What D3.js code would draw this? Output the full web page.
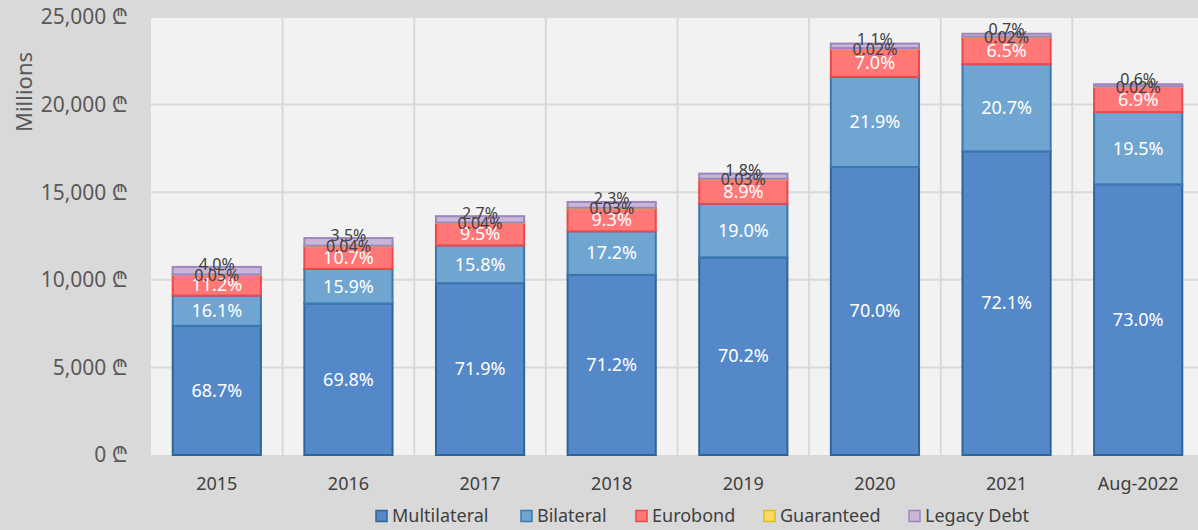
<!DOCTYPE html>
<html lang="en">
<head>
    <meta charset="UTF-8">
    <style>
        body { margin: 0; background: #d9d9d9; }
        text { font-family: "Noto Sans", sans-serif; }
    </style>
    <title>Debt by creditor</title>
</head>
<body>
<script src="https://d3js.org/d3.v7.min.js" charset="utf-8"></script>
<script>
    // totals in millions of lari, shares in percent
    var years = ['2015', '2016', '2017', '2018', '2019', '2020', '2021', 'Aug-2022'];
    var totals = [10730, 12390, 13640, 14440, 16070, 23480, 24040, 21160];
    var multilateral = [68.7, 69.8, 71.9, 71.2, 70.2, 70.0, 72.1, 73.0];
    var bilateral = [16.1, 15.9, 15.8, 17.2, 19.0, 21.9, 20.7, 19.5];
    var eurobond = [11.2, 10.7, 9.5, 9.3, 8.9, 7.0, 6.5, 6.9];
    var guaranteed = [0.05, 0.04, 0.04, 0.03, 0.03, 0.02, 0.02, 0.02];
    var legacy = [4.0, 3.5, 2.7, 2.3, 1.8, 1.1, 0.7, 0.6];
    var yTicks = [0, 5000, 10000, 15000, 20000, 25000];

    var seriesNames = ['Multilateral', 'Bilateral', 'Eurobond', 'Guaranteed', 'Legacy Debt'];
    var shares = [multilateral, bilateral, eurobond, guaranteed, legacy];
    var fills = ['#5588c9', '#71a5d1', '#ff7777', '#ffd966', '#c9b6d8'];
    var strokes = ['#2f6699', '#3a78ae', '#e8494b', '#d8c21a', '#9d86bd'];

    var width = 1198, height = 530;
    var plot = {left: 151, right: 1204, top: 17, bottom: 455};

    var svg = d3.select('body').append('svg').attr('width', width).attr('height', height);

    svg.append('rect')
        .attr('x', plot.left).attr('y', plot.top)
        .attr('width', plot.right - plot.left).attr('height', plot.bottom - plot.top)
        .attr('fill', '#f2f2f2');

    var x = d3.scaleBand().domain(years).range([plot.left, plot.right])
        .paddingInner(0.33).paddingOuter(0.165);
    var y = d3.scaleLinear().domain([0, 25000]).range([plot.bottom, plot.top]);

    // gridlines
    svg.append('g').selectAll('line.h')
        .data(yTicks.slice(1))
        .enter().append('line')
        .attr('x1', plot.left).attr('x2', plot.right)
        .attr('y1', function (d) { return y(d); }).attr('y2', function (d) { return y(d); })
        .attr('stroke', '#d9d9d9').attr('stroke-width', 2);

    var step = x.step();
    svg.append('g').selectAll('line.v')
        .data(years.slice(1))
        .enter().append('line')
        .attr('x1', function (d) { return x(d) - x.paddingInner() * step / 2; })
        .attr('x2', function (d) { return x(d) - x.paddingInner() * step / 2; })
        .attr('y1', plot.top).attr('y2', plot.bottom)
        .attr('stroke', '#d9d9d9').attr('stroke-width', 2);

    // y axis labels
    var fmt = d3.format(',');
    svg.append('g').selectAll('text')
        .data(yTicks)
        .enter().append('text')
        .attr('x', 128)
        .attr('y', function (d) { return y(d); })
        .attr('dy', '0.35em')
        .attr('text-anchor', 'end')
        .attr('fill', '#595959')
        .style('font-size', '21px')
        .text(function (d) { return fmt(d) + ' \u20BE'; });

    svg.append('text')
        .attr('transform', 'translate(32,92) rotate(-90)')
        .attr('text-anchor', 'middle')
        .attr('fill', '#595959')
        .style('font-size', '22px')
        .text('Millions');

    // x labels
    svg.append('g').selectAll('text')
        .data(years)
        .enter().append('text')
        .attr('x', function (d) { return x(d) + x.bandwidth() / 2; })
        .attr('y', 484)
        .attr('dy', '0.35em')
        .attr('text-anchor', 'middle')
        .attr('fill', '#404040')
        .style('font-size', '18px')
        .text(function (d) { return d; });

    // build stacked segments
    var segments = [];
    years.forEach(function (yr, i) {
        var base = 0;
        shares.forEach(function (s, k) {
            var v = totals[i] * s[i] / 100;
            segments.push({year: yr, k: k, y0: base, y1: base + v, pct: s[i]});
            base += v;
        });
    });

    svg.append('g').selectAll('rect')
        .data(segments)
        .enter().append('rect')
        .attr('x', function (d) { return x(d.year); })
        .attr('width', x.bandwidth())
        .attr('y', function (d) { return y(d.y1); })
        .attr('height', function (d) { return Math.max(0.5, y(d.y0) - y(d.y1)); })
        .attr('fill', function (d) { return fills[d.k]; })
        .attr('stroke', function (d) { return strokes[d.k]; })
        .attr('stroke-width', 2);

    svg.append('g').selectAll('text')
        .data(segments)
        .enter().append('text')
        .attr('x', function (d) { return x(d.year) + x.bandwidth() / 2; })
        .attr('y', function (d) {
            var c = (y(d.y0) + y(d.y1)) / 2;
            if (d.k === 4) c -= 6;
            if (d.k === 3) c += 1;
            return c;
        })
        .attr('dy', '0.35em')
        .attr('text-anchor', 'middle')
        .attr('fill', function (d) { return d.k >= 3 ? '#404040' : '#ffffff'; })
        .style('font-size', function (d) { return d.k >= 3 ? '16px' : '18px'; })
        .text(function (d) { return d.pct < 0.1 ? d.pct.toFixed(2) + '%' : d.pct.toFixed(1) + '%'; });

    // legend
    var legendX = [375, 520, 635, 763, 908];
    var legend = svg.append('g').selectAll('g')
        .data(seriesNames)
        .enter().append('g')
        .attr('transform', function (d, i) { return 'translate(' + legendX[i] + ',516)'; });
    legend.append('rect')
        .attr('x', 1).attr('y', -5.5).attr('width', 11).attr('height', 11)
        .attr('fill', function (d, i) { return fills[i]; })
        .attr('stroke', function (d, i) { return strokes[i]; })
        .attr('stroke-width', 1.5);
    legend.append('text')
        .attr('x', 17).attr('dy', '0.35em')
        .attr('fill', '#404040')
        .style('font-size', '18px')
        .text(function (d) { return d; });
</script>
</body>
</html>
